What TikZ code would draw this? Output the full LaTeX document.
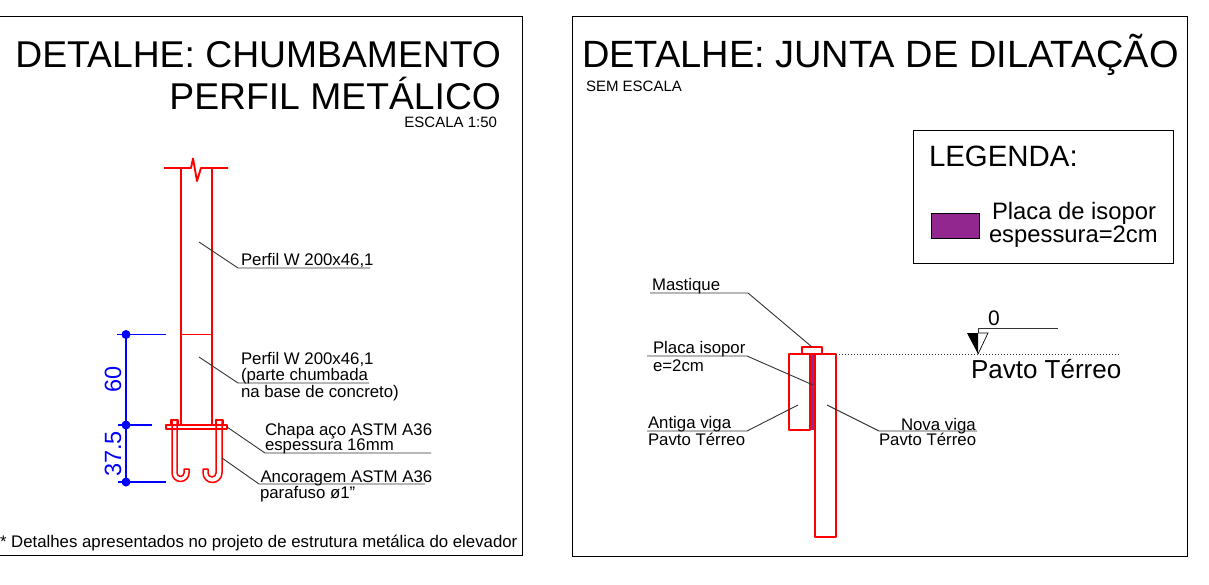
\documentclass[tikz,border=0pt]{standalone}
\usepackage{fontspec}
\setmainfont{Liberation Sans}
\definecolor{cadred}{RGB}{255,0,0}
\definecolor{dimblue}{RGB}{0,0,255}
\definecolor{foam}{RGB}{146,39,143}
\definecolor{leader}{RGB}{50,50,50}
\newcommand{\fsz}[1]{\fontsize{#1}{#1}\selectfont}
\tikzset{
  frame/.style={draw=black,line width=0.9pt},
  txt/.style={inner sep=0pt,outer sep=0pt,anchor=base west,text=black},
  txtr/.style={txt,anchor=base east},
  steel/.style={draw=cadred,line width=1.9pt,line join=round},
  bolt/.style={draw=cadred,line width=1.5pt,line join=round},
  dim/.style={draw=dimblue,line width=1.9pt},
  dimtext/.style={inner sep=0pt,text=dimblue,rotate=90,font=\fsz{23.5}},
  lead/.style={draw=leader,line width=0.9pt},
  label/.style={txt,font=\fsz{16.8}},
  dot/.style={circle,fill=dimblue,inner sep=0pt,minimum size=9pt}
}
\begin{document}
\begin{tikzpicture}[x=1pt,y=-1pt]
\useasboundingbox (0,0) rectangle (1209,584);
% frames
\draw[frame] (-2,16) rectangle (522,555);
\draw[frame] (572,16) rectangle (1187,556);
% left titles
\node[txtr,font=\fsz{37.3}] (t1) at (501,67) {DETALHE: CHUMBAMENTO};
\node[txtr,font=\fsz{37.3}] (t2) at (501,109) {PERFIL METÁLICO};
\node[txtr,font=\fsz{15}] (t3) at (497,127) {ESCALA 1:50};
\node[txt,font=\fsz{16.8}] (foot) at (0,547) {* Detalhes apresentados no projeto de estrutura metálica do elevador};
% column
\draw[steel] (164,168) -- (191,168) -- (193,158.5) -- (197,181) -- (201,168) -- (228,168);
\draw[steel] (181,168) -- (181,425);
\draw[steel] (212,168) -- (212,425);
\draw[steel] (181,334.5) -- (212,334.5);
% plate
\draw[steel] (166,425) rectangle (227,429);
% bolts
\draw[bolt] (171,425) -- (171,420) -- (178,420) -- (178,425);
\draw[bolt] (215.5,425) -- (215.5,420) -- (223,420) -- (223,425);
\draw[bolt] (172,420) -- (172,473) arc[start angle=180,end angle=0,radius=8.5] -- (189,469) -- (184,469) -- (184,473) arc[start angle=0,end angle=180,radius=3.5] -- (177,420);
\draw[bolt] (222,420) -- (222,473) arc[start angle=0,end angle=180,radius=9.5] -- (203,469) -- (208,469) -- (208,473) arc[start angle=180,end angle=0,radius=4] -- (216,420);
% dimension
\coordinate (d1) at (126,334.5);
\coordinate (d2) at (126,425);
\coordinate (d3) at (126,482);
\draw[dim] (d1) -- (d2) -- (d3);
\draw[dim] (117,334.5) -- (166,334.5);
\draw[dim] (118,425) -- (152,425);
\draw[dim] (118,482) -- (166,482);
\node[dot] (dot1) at (d1) {};
\node[dot] (dot2) at (d2) {};
\node[dot] (dot3) at (d3) {};
\node[dimtext] (dt1) at (113,379.5) {60};
\node[dimtext] (dt2) at (113,454) {37.5};
% left labels
\node[label] (l1) at (241,265) {Perfil W 200x46,1};
\draw[lead] (199,242) -- (238,268) -- (370,268);
\node[label] (l2) at (241,364) {Perfil W 200x46,1};
\node[label] (l2b) at (241,380) {(parte chumbada};
\node[label] (l2c) at (241,397) {na base de concreto)};
\draw[lead] (199,357) -- (238,383) -- (369,383);
\node[label] (l3) at (265,435) {Chapa aço ASTM A36};
\node[label] (l3b) at (265,450) {espessura 16mm};
\draw[lead] (227,427) -- (265,453) -- (431,453);
\node[label] (l4) at (260.5,482) {Ancoragem ASTM A36};
\node[label] (l4b) at (260,498) {parafuso ø1"};
\draw[lead] (222,458) -- (259,484) -- (425,484);
% right titles
\node[txt,font=\fsz{38}] (r1) at (582,67) {DETALHE: JUNTA DE DILATAÇÃO};
\node[txt,font=\fsz{15}] (r2) at (586,91) {SEM ESCALA};
% legend
\draw[draw=black,line width=0.8pt] (913,130) rectangle (1173,263);
\node[txt,font=\fsz{29.4}] (lg) at (929,166) {LEGENDA:};
\draw[black,line width=0.8pt,fill=foam] (931,213) rectangle (979,238);
\node[txt,font=\fsz{23.8}] (lg1) at (992,219.5) {Placa de isopor};
\node[txt,font=\fsz{23.8}] (lg2) at (989,242) {espessura=2cm};
% section
\fill[foam] (810,354) rectangle (815,430);
\draw[steel] (789,354) rectangle (810,430);
\draw[steel] (815,354) rectangle (836,537);
\draw[steel] (802,347) rectangle (822,354);
\draw[steel] (810,354) -- (815,354);
\draw[leader,line width=1pt,dotted] (836,354.5) -- (1120,354.5);
% right labels
\node[label] (m1) at (652,290) {Mastique};
\draw[lead] (650,293) -- (748,293) -- (812,347);
\node[label] (m2) at (653,353) {Placa isopor};
\node[label] (m2b) at (653,371) {e=2cm};
\draw[lead] (647,356) -- (747,356) -- (813,385);
\node[label] (m3) at (648,428) {Antiga viga};
\node[label] (m3b) at (648,445) {Pavto Térreo};
\draw[lead] (647,431) -- (747,431) -- (798,405);
\node[label] (m4) at (901,430) {Nova viga};
\node[label] (m4b) at (879,445) {Pavto Térreo};
\draw[lead] (977,431) -- (879,431) -- (827,405);
% level mark
\fill[black] (967,333) -- (978,333) -- (978,354) -- cycle;
\draw[black,line width=0.7pt] (978,333) -- (988,333) -- (978,354);
\draw[leader,line width=0.9pt] (978,333) -- (978,328) -- (1058,328);
\node[txt,font=\fsz{21}] (z0) at (988,325) {0};
\node[txt,font=\fsz{26}] (pt) at (971,378) {Pavto Térreo};
\end{tikzpicture}
\end{document}
